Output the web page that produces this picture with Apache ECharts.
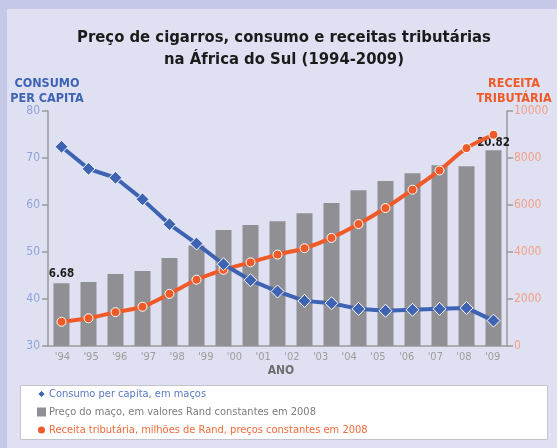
<!DOCTYPE html>
<html>
<head>
<meta charset="utf-8">
<script src="https://cdn.jsdelivr.net/npm/echarts@6/dist/echarts.min.js"></script>
<style>
  html, body { margin: 0; padding: 0; background: #c5c9e7; }
  #main { width: 557px; height: 448px; }
</style>
</head>
<body>
<div id="main"></div>
<script>
// year labels shown under the axis (16 of them)
const yearLabels = ["'94", "'95", "'96", "'97", "'98", "'99", "'00", "'01", "'02", "'03", "'04", "'05", "'06", "'07", "'08", "'09"];
// the picture plots 17 points per series
const pointKeys = ['1', '2', '3', '4', '5', '6', '7', '8', '9', '10', '11', '12', '13', '14', '15', '16', '17'];

const consumo = [72.4, 67.7, 65.8, 61.2, 55.9, 51.8, 47.4, 44.0, 41.6, 39.6, 39.1, 37.9, 37.5, 37.7, 37.9, 38.1, 35.4];
const preco = [6.68, 6.8, 7.65, 7.97, 9.35, 10.7, 12.33, 12.86, 13.28, 14.13, 15.2, 16.58, 17.54, 18.39, 19.24, 19.13, 20.82];
const receita = [1030, 1180, 1440, 1670, 2220, 2820, 3240, 3560, 3890, 4160, 4600, 5190, 5870, 6650, 7470, 8420, 8990];

const FONT = "'Liberation Sans Narrow', 'DejaVu Sans Condensed', 'Roboto', sans-serif";

const chart = echarts.init(document.getElementById('main'), null, { renderer: 'canvas' });

const option = {
  backgroundColor: '#c5c9e7',
  textStyle: { fontFamily: FONT },
  title: {
    text: 'Preço de cigarros, consumo e receitas tributárias\nna África do Sul (1994-2009)',
    left: 284,
    textAlign: 'center',
    top: 26,
    padding: 0,
    textStyle: { fontFamily: FONT, fontSize: 16.5, fontWeight: 'bold', color: '#1b1b1b', lineHeight: 22.5 }
  },
  graphic: [
    { type: 'rect', left: 7, top: 9, shape: { width: 550, height: 439 }, style: { fill: '#dfe1f2' }, z: -10 },
    { type: 'rect', left: 20, top: 385, shape: { width: 527, height: 54 },
      style: { fill: '#ffffff', stroke: '#c3c3cc', lineWidth: 1 }, z: -5 },
    { type: 'text', x: 47, y: 76, style: { text: 'CONSUMO\nPER CAPITA', fill: '#3e63b3', font: "bold 12.5px " + FONT, align: 'center', lineHeight: 15 } },
    { type: 'text', x: 514, y: 76, style: { text: 'RECEITA\nTRIBUTÁRIA', fill: '#f05a28', font: "bold 12.5px " + FONT, align: 'center', lineHeight: 15 } },
    { type: 'text', x: 281, y: 365, style: { text: 'ANO', fill: '#6e6e6e', font: "bold 12px " + FONT, align: 'center' } }
  ],
  legend: {
    orient: 'vertical',
    left: 36,
    top: 387,
    itemGap: 4,
    itemWidth: 9,
    itemHeight: 9,
    padding: 0,
    selectedMode: false,
    data: [
      { name: 'Consumo per capita, em maços', icon: 'diamond', itemStyle: { color: '#3e63b3' }, textStyle: { color: '#5a78c4' } },
      { name: 'Preço do maço, em valores Rand constantes em 2008', icon: 'rect', itemStyle: { color: '#909094' }, textStyle: { color: '#7c7c7c' } },
      { name: 'Receita tributária, milhões de Rand, preços constantes em 2008', icon: 'circle', itemStyle: { color: '#f05a28' }, textStyle: { color: '#f06a3a' } }
    ],
    textStyle: { fontFamily: FONT, fontSize: 11, lineHeight: 14, padding: [0, 0, 0, -2] }
  },
  grid: { left: 48, right: 50, top: 111, bottom: 102 },
  xAxis: [
    {
      type: 'category',
      data: yearLabels,
      boundaryGap: true,
      axisLine: { lineStyle: { color: '#9a9a9a', width: 1.5 } },
      axisTick: { show: false },
      axisLabel: { color: '#9c9c9c', fontSize: 11, margin: 6, fontFamily: FONT }
    },
    {
      type: 'category',
      data: pointKeys,
      boundaryGap: true,
      show: false
    }
  ],
  yAxis: [
    {
      type: 'value',
      min: 30, max: 80, interval: 10,
      position: 'left',
      axisLine: { show: true, lineStyle: { color: '#9a9a9a', width: 1.5 } },
      axisTick: { show: true, length: 6, lineStyle: { color: '#9a9a9a', width: 1.5 } },
      axisLabel: { color: '#90a3d6', fontSize: 12, margin: 8, fontFamily: FONT },
      splitLine: { show: false }
    },
    {
      type: 'value',
      min: 0, max: 10000, interval: 2000,
      position: 'right',
      axisLine: { show: true, lineStyle: { color: '#9a9a9a', width: 1.5 } },
      axisTick: { show: true, length: 6, lineStyle: { color: '#9a9a9a', width: 1.5 } },
      axisLabel: { color: '#f2a088', fontSize: 12, margin: 7, fontFamily: FONT, formatter: (v) => String(v) },
      splitLine: { show: false }
    },
    {
      type: 'value',
      min: 0, max: 25,
      show: false
    }
  ],
  series: [
    {
      name: 'Preço do maço, em valores Rand constantes em 2008',
      type: 'bar',
      xAxisIndex: 1,
      yAxisIndex: 2,
      barWidth: 16,
      itemStyle: { color: '#909094' },
      data: preco.map((v, i) => ({
        value: v,
        label: {
          show: i === 0 || i === preco.length - 1,
          position: 'top',
          distance: i === 0 ? 3 : 1,
          formatter: v.toFixed(2),
          color: '#1e1e1e',
          fontWeight: 'bold',
          fontSize: 11.5,
          fontFamily: FONT
        }
      })),
      z: 1
    },
    {
      name: 'Receita tributária, milhões de Rand, preços constantes em 2008',
      type: 'line',
      xAxisIndex: 1,
      yAxisIndex: 1,
      data: receita,
      smooth: 0.3,
      symbol: 'circle',
      symbolSize: 9,
      lineStyle: { color: '#f05a28', width: 4 },
      itemStyle: { color: '#f05a28', borderColor: '#ffffff', borderWidth: 1 },
      z: 3
    },
    {
      name: 'Consumo per capita, em maços',
      type: 'line',
      xAxisIndex: 1,
      yAxisIndex: 0,
      data: consumo,
      symbol: 'diamond',
      symbolSize: 13,
      lineStyle: { color: '#3e63b3', width: 4 },
      itemStyle: { color: '#3e63b3', borderColor: '#ffffff', borderWidth: 1 },
      z: 4
    }
  ]
};

chart.setOption(option);
</script>
</body>
</html>
